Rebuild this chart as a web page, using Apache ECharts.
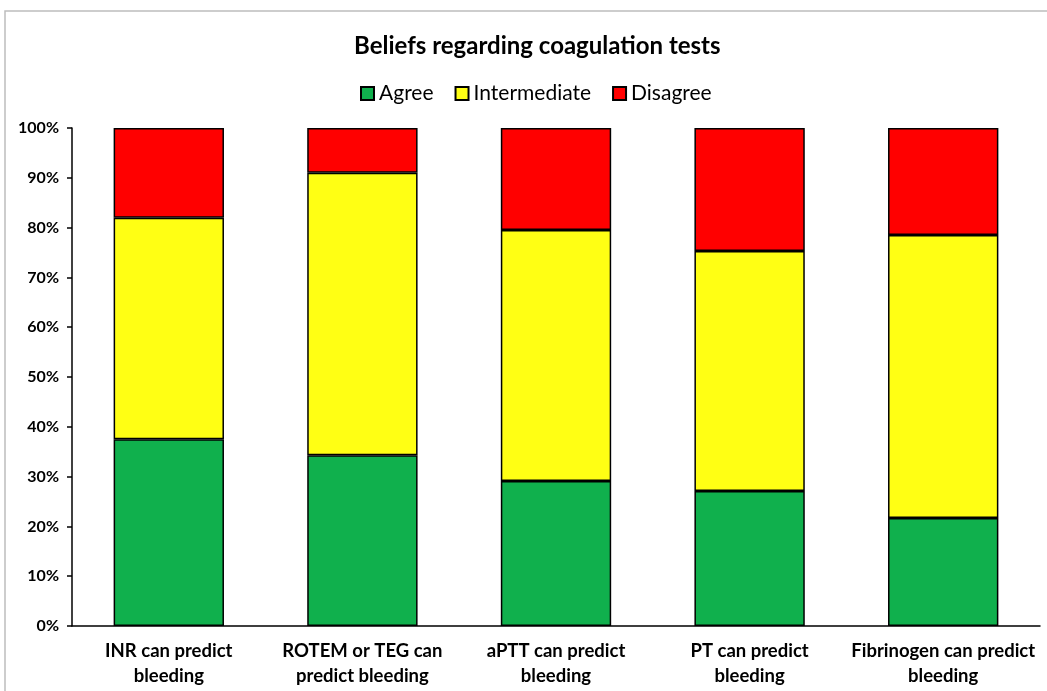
<!DOCTYPE html>
<html>
<head>
<meta charset="utf-8">
<script src="https://cdn.jsdelivr.net/npm/echarts@6/dist/echarts.min.js"></script>
<style>
  html, body { margin: 0; padding: 0; background: #fff; }
  #chart { width: 1047px; height: 691px; }
</style>
</head>
<body>
<div id="chart"></div>
<script>
const categories = [
  'INR can predict\nbleeding',
  'ROTEM or TEG can\npredict bleeding',
  'aPTT can predict\nbleeding',
  'PT can predict\nbleeding',
  'Fibrinogen can predict\nbleeding'
]
const agree = [37.5, 34.3, 29.1, 27.1, 21.7]
const intermediate = [44.5, 56.7, 50.4, 48.2, 56.8]
const disagree = [18.0, 9.0, 20.5, 24.7, 21.5]

const font = 'Lato, "Open Sans", sans-serif'
const chart = echarts.init(document.getElementById('chart'))

const barStyle = color => ({ color: color, borderColor: '#000', borderWidth: 1.5 })

chart.setOption({
  animation: false,
  graphic: [{
    type: 'rect',
    shape: { x: 5, y: 11, width: 1050, height: 700 },
    style: { fill: 'none', stroke: '#bdbdbd', lineWidth: 1.5 },
    silent: true
  }],
  title: {
    text: 'Beliefs regarding coagulation tests',
    left: 349,
    top: 29,
    textStyle: { fontFamily: font, fontSize: 24, fontWeight: 'bold', color: '#000' }
  },
  legend: {
    top: 78,
    left: 355,
    itemWidth: 13,
    itemHeight: 13,
    itemGap: 21,
    icon: 'rect',
    textStyle: { fontFamily: font, fontSize: 21, color: '#000' },
    data: ['Agree', 'Intermediate', 'Disagree']
  },
  grid: { left: 72, right: 7, top: 128, bottom: 65 },
  xAxis: {
    type: 'category',
    data: categories,
    axisLine: { lineStyle: { color: '#000', width: 1.5 } },
    axisTick: { show: false },
    axisLabel: {
      fontFamily: font, fontSize: 18.5, fontWeight: 'bold', color: '#000',
      lineHeight: 25, margin: 13, interval: 0
    }
  },
  yAxis: {
    type: 'value',
    min: 0,
    max: 100,
    interval: 10,
    splitLine: { show: false },
    axisLine: { show: true, lineStyle: { color: '#000', width: 1.5 } },
    axisTick: { show: true, length: 5, lineStyle: { color: '#000', width: 1.5 } },
    axisLabel: {
      fontFamily: font, fontSize: 16, fontWeight: 'bold', color: '#000', margin: 13,
      formatter: '{value}%'
    }
  },
  series: [{
    name: 'Agree',
    type: 'bar',
    stack: 'beliefs',
    barWidth: '57%',
    data: agree,
    itemStyle: barStyle('#10b04d')
  }, {
    name: 'Intermediate',
    type: 'bar',
    stack: 'beliefs',
    barWidth: '57%',
    data: intermediate,
    itemStyle: barStyle('#ffff14')
  }, {
    name: 'Disagree',
    type: 'bar',
    stack: 'beliefs',
    barWidth: '57%',
    data: disagree,
    itemStyle: barStyle('#ff0000')
  }]
})
</script>
</body>
</html>
